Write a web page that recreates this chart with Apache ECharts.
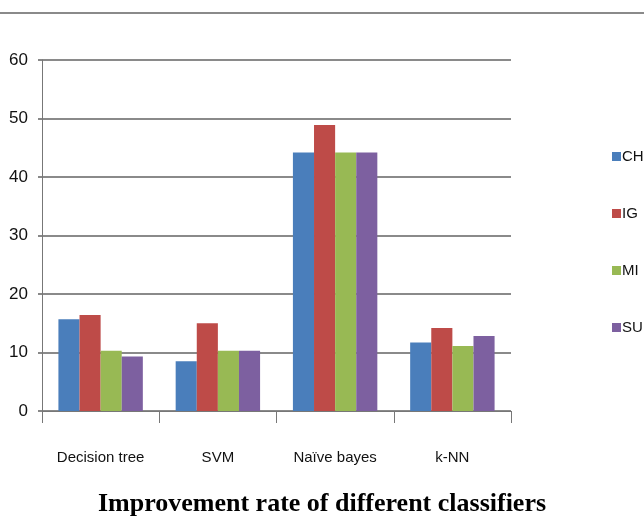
<!DOCTYPE html>
<html><head><meta charset="utf-8">
<script src="https://cdn.jsdelivr.net/npm/echarts@6/dist/echarts.min.js"></script>
<style>html,body{margin:0;padding:0;background:#fff}#c{width:644px;height:523px}</style>
</head><body><div id="c"></div>
<script>
var categories = ['Decision tree', 'SVM', 'Naïve bayes', 'k-NN'];
var seriesNames = ['CHI', 'IG', 'MI', 'SU'];
var CHI = [15.7, 8.5, 44.2, 11.7];
var IG  = [16.4, 15.0, 48.9, 14.2];
var MI  = [10.3, 10.3, 44.2, 11.1];
var SU  = [9.3, 10.3, 44.2, 12.8];
var yTicks = [0, 10, 20, 30, 40, 50, 60];
var colors = ['#4a7ebb', '#be4b48', '#98b954', '#7d60a0'];
var values = [CHI, IG, MI, SU];
var narrow = "'Liberation Sans Narrow','Liberation Sans',Arial,sans-serif";

var chart = echarts.init(document.getElementById('c'));
chart.setOption({
  animation: false,
  backgroundColor: '#fff',
  color: colors,
  title: {
    text: 'Improvement rate of different classifiers',
    left: 'center', top: 486,
    textStyle: { fontFamily: "'Liberation Serif','Times New Roman',serif", fontWeight: 'bold', fontSize: 26, color: '#000' }
  },
  legend: {
    orient: 'vertical', left: 607, top: 144,
    itemWidth: 9, itemHeight: 9, itemGap: 42, icon: 'rect',
    data: seriesNames,
    textStyle: { fontFamily: narrow, fontSize: 15, color: '#111', padding: [0, 0, 0, -4] }
  },
  graphic: [{
    type: 'line', shape: { x1: 0, y1: 13, x2: 644, y2: 13 },
    style: { stroke: '#8a8a8a', lineWidth: 2 }
  }],
  grid: { left: 42, right: 133, top: 60, bottom: 112 },
  xAxis: {
    type: 'category', data: categories,
    axisLine: { lineStyle: { color: '#777', width: 1 } },
    axisTick: { show: true, length: 12, lineStyle: { color: '#777' } },
    axisLabel: { interval: 0, margin: 39, fontFamily: narrow, fontSize: 15, color: '#111' }
  },
  yAxis: {
    type: 'value', min: yTicks[0], max: yTicks[yTicks.length - 1], interval: 10,
    axisLine: { show: true, lineStyle: { color: '#777' } },
    axisTick: { show: true, length: 4, lineStyle: { color: '#888', width: 2 } },
    axisLabel: { margin: 14, fontFamily: narrow, fontSize: 17, color: '#111' },
    splitLine: { lineStyle: { color: '#8a8a8a', width: 2 } }
  },
  series: seriesNames.map(function (n, i) {
    return { name: n, type: 'bar', data: values[i], barGap: '0%', barCategoryGap: '28%' };
  })
});
</script></body></html>
